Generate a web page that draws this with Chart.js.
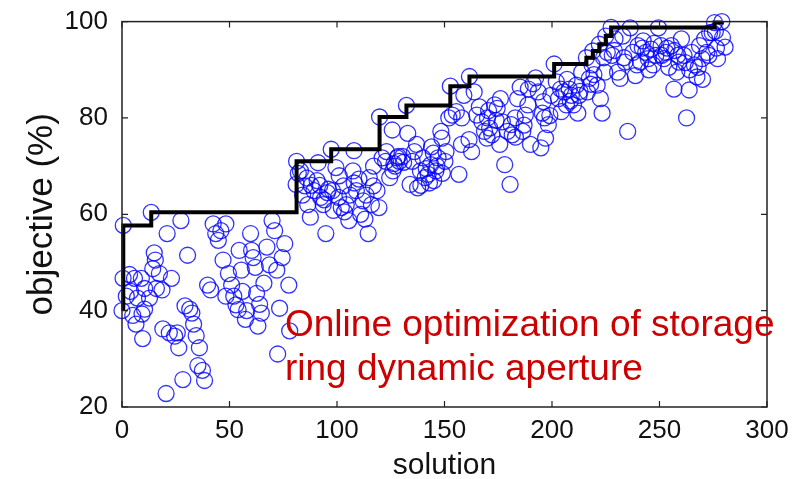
<!DOCTYPE html>
<html>
<head>
<meta charset="utf-8">
<script src="https://cdn.jsdelivr.net/npm/chart.js@4.4.1/dist/chart.umd.min.js"></script>
<style>
  html, body { margin: 0; padding: 0; background: #fff; }
  #wrap { position: relative; width: 806px; height: 479px; }
</style>
</head>
<body>
<div id="wrap"><canvas id="c" width="806" height="479"></canvas></div>
<script>
// ---- data ----
const solX = [
  0, 0.5, 0.6, 2, 3.5, 4, 5, 5.8, 6.5, 7.2, 9, 9.3, 9.6, 10.5, 10.5, 12.8, 13.6, 14.3, 15, 15.5, 16, 17.4, 18.6, 19,
  20.5, 21, 22, 23, 24.5, 25.7, 26.4, 27.4, 28.3, 29.3, 30.5, 31.5, 32.5, 33.3, 34.5, 35.3, 36, 37.4, 38.4, 39.8,
  41.2, 42.4, 43.6, 44.8, 46, 47, 48.3, 48.3, 49.5, 51, 52, 53, 54, 54.5, 55.5, 56, 57.4, 58, 59.8,
  60.3, 61, 62, 62.6, 63.2, 64, 64.8, 66, 67.4, 68.6, 69.8, 71, 72, 72.4, 73.3, 74.5, 75.7, 77.6, 78, 81,
  81.2, 82, 83, 84, 85, 86, 86.4, 87.6, 88, 89.3, 90.7, 91.2, 92, 92.4, 93.6, 94, 94.8, 95.5, 96, 97.3, 97.9, 98.3, 99.5,
  100.7, 101, 102, 103, 103.5, 104.3, 105.5, 106, 107.4, 107.9, 108, 109, 110.2, 111, 112.1, 113, 113.5, 114.5, 115, 116, 116.9, 117, 118.6,
  119.5, 119.8, 121, 122.6, 123, 124.5, 125.7, 126, 126.5, 127, 128, 128.5, 129, 130.5, 131, 132.3, 132.9, 134, 135, 136, 137, 137.5, 138.8, 139,
  140, 141, 141.5, 142.4, 143, 143.6, 144, 144.8, 145, 146, 146.5, 147, 148.3, 148.8, 149, 150.2, 150.7, 152, 152.7, 153.6, 155.5, 156.7, 157.9, 158, 159,
  161.4, 161.6, 162.6, 163.8, 165, 166.2, 167.4, 168.6, 169.8, 170, 170.5, 171, 172, 173.3, 174, 174.5, 175.7, 176, 176.9, 178, 179.3,
  180.5, 181, 181.5, 182.9, 183, 184, 185.2, 186.4, 187, 187.6, 188.8, 189, 190, 191.2, 192.4, 193.6, 194.8, 195.5, 196, 196.5, 197, 198.3, 199, 199.5,
  201, 202, 203, 204, 204.3, 205.5, 206.7, 207, 208, 208.5, 209, 210, 211.4, 212, 212.6, 213, 213.8, 216, 216.5, 217.4, 218, 218.6, 219, 219.5,
  221, 222, 222.5, 223.3, 224, 224.5, 225, 225.7, 227.5, 228, 229, 229.3,
  230.5, 231.7, 232.9, 233.5, 234, 235.2, 236.4, 237.6, 238.8, 239.5, 240, 241.2, 242, 242.4, 243.6, 244.8, 245, 246, 247, 247.5, 248.3, 249.5,
  250.7, 251, 252, 253, 253.5, 254.3, 255.5, 256.7, 257, 258, 258.5, 259, 260.2, 261.4, 262, 262.6, 263.8, 264, 265, 266.2, 267.4, 268, 268.6, 269.8,
  270, 271, 272, 273, 273.3, 274.5, 275.6, 276, 276.5, 277, 279, 279.3, 280.5
];
const objY = [
  40, 46.7, 57.7, 43, 47.5, 44, 39, 46.7, 37.2, 42.6, 46.7, 39.3, 34.2, 44.6, 40.3, 42.6, 60.4, 48.7, 52, 50.5, 44.6, 47.7, 44.3, 36.2,
  22.8, 56, 35.4, 46.7, 34.7, 35.4, 32.3, 58.7, 25.7, 41, 51.5, 40.3, 39.5, 37.2, 34.8, 28.6, 32.3, 27.6, 25.5, 45.3,
  44.3, 58, 56, 54.6, 56.6, 50.5, 58, 43, 47.7, 45.3, 43, 41.2, 40.2, 52.5, 48.4, 44, 38.2, 40, 56,
  52.5, 51, 49, 43.6, 36.8, 41.3, 39.5, 45.7, 53.2, 49.5, 58.7, 56.6, 48.4, 31, 40.5, 51, 53.9, 45.3, 35.8, 66.2,
  71, 68.5, 69, 64, 65.9, 67.5, 62, 59.4, 66, 64.9, 67, 70.7, 66, 63.5, 62, 63, 56, 64.5, 65.2, 73.5, 64.9, 60.8, 69.7,
  63.5, 68, 61.4, 65.9, 60.5, 62, 58.7, 64, 69, 73.2, 66.5, 64.9, 67.3, 60, 62.8, 59, 64, 56, 67.6, 62, 65.9, 70, 64.9,
  61.4, 80.2, 71.7, 71, 73, 67.6, 77.5, 69, 70.5, 70, 71.7, 72, 71, 72, 70.8, 82.6, 76.8, 66.2, 71, 73, 74.5, 65.5, 69, 66,
  71.7, 67.6, 69.5, 68.3, 66.5, 70.3, 74, 72.7, 67, 69, 70, 71.7, 77.2, 75.8, 68.5, 71, 73, 80, 86.6, 80.6, 81.3, 68.3, 74.5, 80, 84.7,
  75.5, 88.6, 73, 85.4, 80.6, 82.3, 79.2, 77.2, 75.8, 80, 81.5, 77.9, 76.5, 82.7, 79.5, 82, 74.5, 84, 79.2, 70.3, 77.2,
  66.2, 78.6, 76.5, 80, 76, 84, 86.4, 77.2, 78.5, 80.6, 82.7, 86, 74.5, 87.1, 88.3, 85.4, 73.8, 81, 83.4, 80, 75.8, 78.6, 80.5, 84.7,
  91.2, 87.5, 84, 86, 81.3, 85.4, 82.7, 88, 86, 83.5, 84.7, 82.7, 86.8, 81, 84.7, 85.5, 89.5, 92.5, 85.4, 88.2, 87, 91, 93.9, 89,
  86.8, 95.3, 84, 81, 92.5, 89.5, 97, 93.6, 98.8, 93, 94, 96.4,
  89.5, 88.2, 97, 92.5, 91.6, 77.2, 98.7, 93.6, 88.8, 91, 95, 91.6, 94.5, 96, 93.6, 92.3, 90, 94.3, 91, 95.5, 93, 98.7,
  95, 93, 92.3, 93.6, 94.5, 90.5, 95, 86, 94, 89.5, 93, 91.6, 96.4, 93, 91.5, 80, 85.8, 90, 93.6, 91, 88.5, 90.5, 95, 92.3,
  88, 96.4, 93.6, 93, 97.7, 97.7, 99.8, 98, 94.5, 92.3, 100, 96.7, 94.7
];
// best-so-far staircase (step points)
const bestX = [0.6, 0.6, 13.6, 81.2, 97.3, 119.8, 132.3, 152.7, 161.6, 201, 216, 219, 222, 225, 227.5, 275.6, 279];
const bestY = [40, 57.7, 60.4, 71, 73.5, 80.2, 82.6, 86.6, 88.6, 91.2, 92.5, 93.9, 95.3, 97, 98.8, 99.8, 100];
const xTicks = [0, 50, 100, 150, 200, 250, 300];
const yTicks = [20, 40, 60, 80, 100];
const xTitle = 'solution';
const yTitle = 'objective (%)';
const noteLines = ['Online optimization of storage', 'ring dynamic aperture'];

// ---- chart ----
const scatterPts = solX.map((x, i) => ({ x: x, y: objY[i] }));
const bestPts = bestX.map((x, i) => ({ x: x, y: bestY[i] }));
const FONT = '"Liberation Sans", Arial, sans-serif';

const frame = {
  id: 'frame',
  beforeDraw(chart) {
    const c = chart.ctx;
    c.save();
    c.fillStyle = '#ffffff';
    c.fillRect(0, 0, chart.width, chart.height);
    c.restore();
  },
  afterDatasetsDraw(chart) {
    const c = chart.ctx;
    const a = chart.chartArea;
    const xs = chart.scales.x, ys = chart.scales.y;
    c.save();
    c.strokeStyle = '#222';
    c.lineWidth = 1.5;
    c.strokeRect(a.left, a.top, a.right - a.left, a.bottom - a.top);
    c.lineWidth = 1.2;
    c.beginPath();
    xs.ticks.forEach(t => {
      const p = xs.getPixelForValue(t.value);
      c.moveTo(p, a.bottom); c.lineTo(p, a.bottom - 6);
      c.moveTo(p, a.top); c.lineTo(p, a.top + 6);
    });
    ys.ticks.forEach(t => {
      const p = ys.getPixelForValue(t.value);
      c.moveTo(a.left, p); c.lineTo(a.left + 6, p);
      c.moveTo(a.right, p); c.lineTo(a.right - 6, p);
    });
    c.stroke();
    c.restore();
  },
  afterDraw(chart) {
    const c = chart.ctx;
    c.save();
    c.fillStyle = '#cc0000';
    c.font = '37px ' + FONT;
    c.textBaseline = 'alphabetic';
    c.textAlign = 'left';
    c.fillText(noteLines[0], 285, 336);
    c.fillText(noteLines[1], 285, 380);
    c.restore();
  }
};

new Chart(document.getElementById('c'), {
  type: 'scatter',
  data: {
    datasets: [
      {
        type: 'line',
        data: bestPts,
        showLine: true,
        stepped: 'before',
        borderColor: '#000000',
        borderWidth: 4,
        pointRadius: 0,
        fill: false,
        clip: false
      },
      {
        type: 'scatter',
        data: scatterPts,
        pointStyle: 'circle',
        pointRadius: 8,
        pointBorderWidth: 1.3,
        borderColor: 'rgba(0,0,255,0.8)',
        backgroundColor: 'rgba(0,0,0,0)',
        pointBackgroundColor: 'rgba(0,0,0,0)',
        pointBorderColor: 'rgba(0,0,255,0.8)',
        clip: false
      }
    ]
  },
  options: {
    responsive: false,
    animation: false,
    devicePixelRatio: 1,
    layout: { padding: { left: 0, right: 39, top: 17, bottom: 0 } },
    plugins: { legend: { display: false }, tooltip: { enabled: false } },
    scales: {
      x: {
        type: 'linear', min: 0, max: 300,
        afterBuildTicks(s) { s.ticks = xTicks.map(v => ({ value: v })); },
        afterFit(s) { s.height = 72; },
        grid: { display: false },
        border: { display: false },
        ticks: { padding: 0, color: '#111', maxRotation: 0, font: { family: FONT, size: 26 } },
        title: { display: true, text: xTitle, color: '#111', padding: { top: 0, bottom: -5 }, font: { family: FONT, size: 30 } }
      },
      y: {
        type: 'linear', min: 20, max: 100,
        afterBuildTicks(s) { s.ticks = yTicks.map(v => ({ value: v })); },
        afterFit(s) { s.width = 122; },
        grid: { display: false },
        border: { display: false },
        ticks: { padding: 6, color: '#111', font: { family: FONT, size: 26 } },
        title: { display: true, text: yTitle, color: '#111', padding: { top: 21, bottom: 0 }, font: { family: FONT, size: 35 } }
      }
    }
  },
  plugins: [frame]
});
</script>
</body>
</html>
